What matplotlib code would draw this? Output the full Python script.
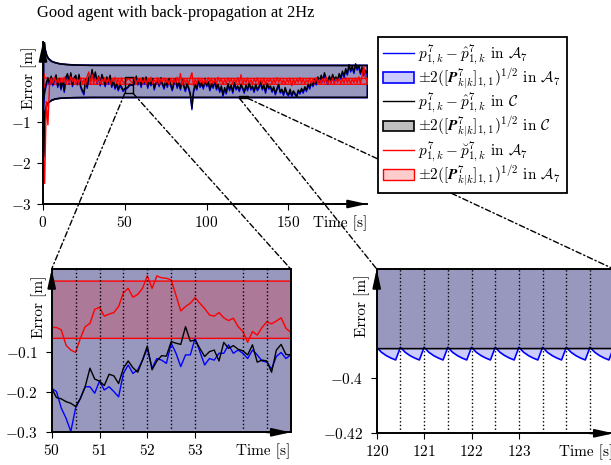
import numpy as np
import matplotlib.pyplot as plt
from matplotlib.patches import Rectangle, ConnectionPatch
from matplotlib.ticker import FuncFormatter
import matplotlib.transforms as mtransforms

plt.rcParams['font.family'] = 'serif'
plt.rcParams['font.serif'] = ['cmr10']
plt.rcParams['mathtext.fontset'] = 'cm'
plt.rcParams['axes.formatter.use_mathtext'] = True
plt.rcParams['font.size'] = 11

# -------------------------------
# Overview data (1 s resolution)
# -------------------------------
t_all = np.arange(0, 199)

black_all = [
    -0.60, -0.25, -0.05, 0.08, -0.06, 0.12, -0.08, 0.04, 0.15, -0.12,
    0.06, -0.18, 0.02, -0.24, 0.10, 0.18, -0.04, 0.20, -0.10, 0.08,
    0.14, -0.06, 0.16, -0.12, -0.22, -0.30, 0.04, -0.14, 0.10, 0.02,
    0.28, 0.06, 0.22, -0.02, 0.12, -0.08, 0.16, 0.04, -0.10, 0.10,
    -0.04, 0.14, -0.12, 0.02, -0.16, -0.06, -0.20, -0.08, -0.14, -0.22,
    -0.19, -0.17, -0.14, -0.08, -0.10, -0.11, -0.02, 0.12, -0.06, 0.04,
    -0.12, 0.08, -0.04, 0.10, -0.14, 0.02, -0.08, 0.06, -0.18, -0.02,
    0.04, -0.10, 0.08, -0.06, -0.16, 0.02, -0.12, 0.06, -0.08, -0.20,
    -0.04, 0.06, -0.14, -0.02, -0.18, 0.04, -0.10, -0.22, -0.06, -0.16,
    -0.30, -0.66, -0.24, -0.08, -0.18, 0.02, -0.12, -0.04, -0.16, 0.06,
    -0.10, -0.02, -0.20, -0.06, -0.14, 0.04, -0.18, -0.08, -0.24, -0.12,
    -0.34, -0.16, -0.28, -0.06, -0.20, -0.10, -0.26, -0.04, -0.18, -0.12,
    -0.22, -0.08, -0.16, -0.26, -0.10, -0.20, -0.04, -0.18, -0.12, -0.24,
    -0.08, -0.20, -0.14, -0.02, -0.18, -0.10, -0.26, -0.06, -0.16, -0.12,
    -0.24, -0.14, -0.30, -0.18, -0.08, -0.26, -0.20, -0.32, -0.16, -0.28,
    -0.34, -0.20, -0.36, -0.24, -0.30, -0.38, -0.22, -0.28, -0.18, -0.26,
    -0.14, -0.22, -0.08, -0.16, -0.02, -0.10, 0.04, -0.06, 0.10, 0.00,
    0.14, 0.02, 0.20, 0.06, -0.04, 0.12, 0.00, 0.16, 0.04, 0.10,
    0.02, 0.18, 0.08, 0.24, 0.12, 0.30, 0.18, 0.40, 0.26, 0.36,
    0.22, 0.42, 0.30, 0.38, 0.20, 0.34, 0.16, 0.26, 0.20,
]

blue_all = [
    -0.70, -0.30, -0.10, 0.04, -0.10, 0.08, -0.12, 0.00, 0.10, -0.16,
    0.02, -0.22, -0.02, -0.28, 0.06, 0.14, -0.08, 0.16, -0.14, 0.04,
    0.10, -0.10, 0.12, -0.16, -0.26, -0.34, 0.00, -0.18, 0.06, -0.02,
    0.24, 0.02, 0.18, -0.06, 0.08, -0.12, 0.12, 0.00, -0.14, 0.06,
    -0.08, 0.10, -0.16, -0.02, -0.20, -0.10, -0.24, -0.12, -0.18, -0.26,
    -0.19, -0.20, -0.16, -0.11, -0.10, -0.11, -0.06, 0.08, -0.10, 0.00,
    -0.16, 0.04, -0.08, 0.06, -0.18, -0.02, -0.12, 0.02, -0.22, -0.06,
    0.00, -0.14, 0.04, -0.10, -0.20, -0.02, -0.16, 0.02, -0.12, -0.24,
    -0.08, 0.02, -0.18, -0.06, -0.22, 0.00, -0.14, -0.26, -0.10, -0.20,
    -0.34, -0.70, -0.28, -0.12, -0.22, -0.02, -0.16, -0.08, -0.20, 0.02,
    -0.14, -0.06, -0.24, -0.10, -0.18, 0.00, -0.22, -0.12, -0.28, -0.16,
    -0.38, -0.20, -0.32, -0.10, -0.24, -0.14, -0.30, -0.08, -0.22, -0.16,
    -0.26, -0.12, -0.20, -0.30, -0.14, -0.24, -0.08, -0.22, -0.16, -0.28,
    -0.12, -0.24, -0.18, -0.06, -0.22, -0.14, -0.30, -0.10, -0.20, -0.16,
    -0.28, -0.18, -0.34, -0.22, -0.12, -0.30, -0.24, -0.36, -0.20, -0.32,
    -0.37, -0.24, -0.38, -0.28, -0.34, -0.38, -0.26, -0.32, -0.22, -0.30,
    -0.18, -0.26, -0.12, -0.20, -0.06, -0.14, 0.00, -0.10, 0.06, -0.04,
    0.10, -0.02, 0.16, 0.02, -0.08, 0.08, -0.04, 0.12, 0.00, 0.06,
    -0.02, 0.14, 0.04, 0.20, 0.08, 0.26, 0.14, 0.36, 0.22, 0.32,
    0.18, 0.38, 0.26, 0.34, 0.16, 0.30, 0.12, 0.22, 0.16,
]

red_all = [
    -1.60, -2.50, -0.50, -1.07, -0.10, 0.06, -0.05, 0.08, -0.04, 0.05,
    -0.06, 0.07, -0.03, 0.09, -0.07, 0.04, -0.05, 0.10, -0.02, 0.06,
    -0.08, 0.05, -0.04, 0.08, -0.06, 0.03, -0.10, 0.12, 0.22, -0.08,
    0.16, -0.06, 0.07, -0.04, 0.09, -0.07, 0.05, -0.03, 0.08, -0.05,
    0.06, -0.08, 0.04, -0.02, 0.09, -0.06, 0.05, -0.09, 0.07, -0.03,
    -0.04, 0.01, 0.06, 0.03, -0.02, -0.05, 0.08, -0.06, 0.04, -0.04,
    0.07, -0.05, 0.03, -0.08, 0.06, -0.03, 0.09, -0.06, 0.02, -0.04,
    0.08, -0.07, 0.05, -0.02, 0.07, -0.05, 0.04, -0.08, 0.06, -0.03,
    0.05, -0.06, 0.09, -0.04, 0.18, -0.10, 0.06, -0.05, 0.04, -0.07,
    0.08, 0.20, -0.12, 0.05, -0.06, 0.07, -0.03, 0.06, -0.08, 0.04,
    -0.05, 0.08, -0.04, 0.06, -0.07, 0.03, -0.06, 0.09, -0.02, 0.05,
    -0.08, 0.04, -0.05, 0.07, -0.03, 0.06, -0.07, 0.05, -0.04, 0.08,
    -0.06, 0.15, -0.09, 0.05, -0.04, 0.07, -0.05, 0.03, -0.07, 0.06,
    -0.03, 0.08, -0.06, 0.04, -0.05, 0.07, -0.08, 0.05, -0.02, 0.06,
    -0.07, 0.04, -0.05, 0.08, -0.03, 0.06, -0.06, 0.03, -0.08, 0.05,
    -0.04, 0.07, -0.12, 0.05, -0.06, 0.04, -0.03, 0.08, -0.05, 0.06,
    -0.07, 0.03, -0.04, 0.07, -0.06, 0.05, -0.03, 0.08, -0.05, 0.04,
    -0.06, 0.06, -0.04, 0.09, -0.07, 0.03, -0.05, 0.07, -0.08, 0.05,
    -0.03, 0.06, -0.06, 0.04, -0.05, 0.08, -0.04, 0.06, -0.07, 0.05,
    -0.04, 0.07, -0.05, 0.10, -0.06, 0.12, 0.36, 0.10, -0.02,
]

# covariance bounds (knots)
t_band = [0, 0.5, 1, 2, 3, 5, 7, 10, 15, 20, 30, 198]
c_up = [1.30, 0.95, 0.78, 0.63, 0.56, 0.49, 0.46, 0.43, 0.41, 0.40, 0.393, 0.3887]
c_lo = [-1.85, -1.05, -0.75, -0.58, -0.52, -0.46, -0.43, -0.41, -0.40, -0.395, -0.39, -0.3887]
a_up = [1.30, 0.95, 0.78, 0.63, 0.56, 0.49, 0.46, 0.43, 0.41, 0.40, 0.395, 0.3935]
a_lo = [-1.85, -1.05, -0.75, -0.58, -0.52, -0.46, -0.43, -0.41, -0.40, -0.395, -0.392, -0.3935]
r_up = [0.20, 0.12, 0.09, 0.08, 0.075, 0.075, 0.075, 0.075, 0.075, 0.075, 0.075, 0.075]
r_lo = [-0.20, -0.12, -0.09, -0.075, -0.067, -0.067, -0.067, -0.067, -0.067, -0.067, -0.067, -0.067]

# -------------------------------
# Zoom 1: 50..55 s (10 Hz)
# -------------------------------
t_z1 = np.round(np.arange(50.0, 55.01, 0.1), 1)
red_z1 = [
    -0.040, -0.040, -0.046, -0.084, -0.096, -0.102, -0.067, -0.038, -0.030, 0.005,
    0.010, -0.012, -0.007, -0.003, 0.012, 0.046, 0.057, 0.035, 0.042, 0.057,
    0.088, 0.057, 0.088, 0.083, 0.082, 0.078, 0.040, 0.001, 0.012, 0.020,
    0.034, 0.020, 0.007, -0.009, -0.012, -0.003, -0.016, -0.023, -0.017, -0.038,
    -0.050, -0.077, -0.050, -0.059, -0.040, -0.026, -0.031, -0.024, -0.016, -0.042,
    -0.052,
]
black_z1 = [
    -0.191, -0.214, -0.217, -0.224, -0.228, -0.236, -0.216, -0.187, -0.141, -0.168,
    -0.173, -0.184, -0.156, -0.160, -0.179, -0.141, -0.123, -0.140, -0.151, -0.121,
    -0.086, -0.145, -0.123, -0.110, -0.111, -0.075, -0.079, -0.082, -0.038, -0.074,
    -0.071, -0.092, -0.112, -0.100, -0.096, -0.123, -0.077, -0.092, -0.085, -0.094,
    -0.098, -0.108, -0.083, -0.126, -0.121, -0.123, -0.151, -0.096, -0.082, -0.107,
    -0.108,
]
blue_z1 = [
    -0.191, -0.199, -0.240, -0.265, -0.298, -0.240, -0.216, -0.187, -0.187, -0.203,
    -0.173, -0.195, -0.187, -0.199, -0.212, -0.154, -0.133, -0.154, -0.145, -0.121,
    -0.092, -0.141, -0.117, -0.121, -0.129, -0.079, -0.104, -0.137, -0.108, -0.108,
    -0.067, -0.100, -0.133, -0.117, -0.121, -0.104, -0.104, -0.083, -0.104, -0.096,
    -0.104, -0.117, -0.096, -0.108, -0.123, -0.126, -0.143, -0.112, -0.102, -0.117,
    -0.108,
]
bp_z1 = [50.5, 51.0, 51.5, 52.0, 52.5, 53.0, 54.0, 54.5]

# -------------------------------
# Zoom 2: 120..125 s (10 Hz), lower A7 bound
# -------------------------------
t_z2 = np.round(np.arange(120.0, 125.01, 0.1), 1)
a_lo_z2 = [
    -0.3888, -0.3906, -0.3918, -0.3927, -0.3934,
    -0.3888, -0.3906, -0.3918, -0.3927, -0.3934,
    -0.3888, -0.3906, -0.3918, -0.3927, -0.3934,
    -0.3888, -0.3906, -0.3918, -0.3927, -0.3934,
    -0.3888, -0.3906, -0.3918, -0.3927, -0.3934,
    -0.3888, -0.3906, -0.3918, -0.3927, -0.3934,
    -0.3888, -0.3906, -0.3918, -0.3927, -0.3934,
    -0.3888, -0.3906, -0.3918, -0.3927, -0.3934,
    -0.3888, -0.3906, -0.3918, -0.3927, -0.3934,
    -0.3888, -0.3906, -0.3918, -0.3927, -0.3934,
    -0.3888,
]
a_up_z2 = 0.3935
bp_z2 = [120.5, 121.0, 121.5, 122.0, 122.5, 123.0, 123.5, 124.0, 124.5]

z1_xlim, z1_ylim = (50, 55), (-0.3, 0.105)
z2_xlim, z2_ylim = (120, 125), (-0.42, -0.3604)

labels = [
    r'$p^{7}_{1,k} - \hat{p}^{7}_{1,k}$ in $\mathcal{A}_7$',
    r'$\pm 2([\boldsymbol{P}^{7}_{k|k}]_{1,1})^{1/2}$ in $\mathcal{A}_7$',
    r'$p^{7}_{1,k} - \hat{p}^{7}_{1,k}$ in $\mathcal{C}$',
    r'$\pm 2([\boldsymbol{P}^{7}_{k|k}]_{1,1})^{1/2}$ in $\mathcal{C}$',
    r'$p^{7}_{1,k} - \breve{p}^{7}_{1,k}$ in $\mathcal{A}_7$',
    r'$\pm 2([\boldsymbol{P}^{7}_{k|k}]_{1,1})^{1/2}$ in $\mathcal{A}_7$',
]

BLUE_F = (0, 0, 1, 0.2)
GRAY_F = (0, 0, 0, 0.25)
RED_F = (1, 0, 0, 0.2)

fig = plt.figure(figsize=(6.11, 4.65), dpi=100)
fig.text(37/611, 1 - 13/465, 'Good agent with back-propagation at 2Hz',
         family='Liberation Serif', fontsize=11.9, va='center', ha='left')

ax_top = fig.add_axes([43/611, 1 - 204/465, 324/611, 162/465])
ax_bl = fig.add_axes([51.7/611, 1 - 432.3/465, 239/611, 163.3/465])
ax_br = fig.add_axes([376.7/611, 1 - 433.3/465, 237/611, 164.3/465])

fmt = FuncFormatter(lambda v, p: f'${v:g}$')


def style(ax, box, pad, ylab_xy, time_dy):
    for s in ax.spines.values():
        s.set_linewidth(1.4)
    ax.spines['top'].set_visible(box)
    ax.spines['right'].set_visible(box)
    ax.tick_params(direction='out', length=4, width=0.8, labelsize=11)
    ax.tick_params(axis='y', pad=pad)
    ax.tick_params(axis='x', pad=4)
    ax.xaxis.set_major_formatter(fmt)
    ax.yaxis.set_major_formatter(fmt)
    arr = dict(arrowstyle='-|>,head_length=1.0,head_width=0.22', color='k',
               lw=1.4, shrinkA=0, shrinkB=0)
    ax.annotate('', xy=(1, 0), xytext=(0.9, 0), xycoords='axes fraction',
                arrowprops=arr, annotation_clip=False, zorder=10)
    ax.annotate('', xy=(0, 1), xytext=(0, 0.9), xycoords='axes fraction',
                arrowprops=arr, annotation_clip=False, zorder=10)
    ax.text(ylab_xy[0], ylab_xy[1], 'Error [m]', rotation=90, ha='center',
            va='center', fontsize=11, transform=ax.transAxes)
    tr = mtransforms.offset_copy(ax.transAxes, fig=fig, x=0, y=time_dy, units='points')
    ax.text(1, 0, 'Time [s]', ha='right', va='top', fontsize=11, transform=tr)


# ---- top overview ----
ax = ax_top
h1, = ax.plot(t_all, blue_all, color='blue', lw=1.0)
h2 = ax.fill_between(t_band, a_lo, a_up, facecolor=BLUE_F, edgecolor='blue', lw=1.2)
h3, = ax.plot(t_all, black_all, color='black', lw=1.0)
h4 = ax.fill_between(t_band, c_lo, c_up, facecolor=GRAY_F, edgecolor='black', lw=1.2)
h5, = ax.plot(t_all, red_all, color='red', lw=1.0)
h6 = ax.fill_between(t_band, r_lo, r_up, facecolor=RED_F, edgecolor='red', lw=1.0)
ax.add_patch(Rectangle((z1_xlim[0], z1_ylim[0]), z1_xlim[1] - z1_xlim[0],
                       z1_ylim[1] - z1_ylim[0], fill=False, ec='k', lw=1.0, zorder=5))
ax.add_patch(Rectangle((z2_xlim[0], z2_ylim[0]), z2_xlim[1] - z2_xlim[0],
                       z2_ylim[1] - z2_ylim[0], fill=False, ec='k', lw=1.0, zorder=5))
ax.set_xlim(0, 198)
ax.set_ylim(-3, 0.95)
ax.set_xticks([0, 50, 100, 150])
ax.set_yticks([-3, -2, -1])
style(ax, False, 4, (-0.043, 0.778), -8)

# ---- zoom 1 ----
ax = ax_bl
ax.plot(t_z1, blue_z1, color='blue', lw=1.0)
ax.fill_between(t_band, a_lo, a_up, facecolor=BLUE_F, edgecolor='blue', lw=1.2)
ax.plot(t_z1, black_z1, color='black', lw=1.0)
ax.fill_between(t_band, c_lo, c_up, facecolor=GRAY_F, edgecolor='black', lw=1.2)
ax.plot(t_z1, red_z1, color='red', lw=1.0)
ax.fill_between(t_band, r_lo, r_up, facecolor=RED_F, edgecolor='red', lw=1.0)
for x in bp_z1:
    ax.axvline(x, color='k', ls=':', lw=1.0, zorder=6)
ax.set_xlim(*z1_xlim)
ax.set_ylim(*z1_ylim)
ax.set_xticks([50, 51, 52, 53])
ax.set_yticks([-0.3, -0.2, -0.1])
style(ax, True, 6, (-0.054, 0.77), -8)

# ---- zoom 2 ----
ax = ax_br
ax.fill_between(t_z2, a_lo_z2, a_up_z2, facecolor=BLUE_F, edgecolor='blue', lw=1.2)
ax.fill_between(t_band, c_lo, c_up, facecolor=GRAY_F, edgecolor='black', lw=1.2)
for x in bp_z2:
    ax.axvline(x, color='k', ls=':', lw=1.0, zorder=6)
ax.set_xlim(*z2_xlim)
ax.set_ylim(*z2_ylim)
ax.set_xticks([120, 121, 122, 123])
ax.set_yticks([-0.42, -0.4])
style(ax, True, 6, (-0.060, 0.774), -8)

# ---- connectors ----
dash = (0, (4, 2, 1, 2))
for xa, ya, axb, xb in [(z1_xlim[0], z1_ylim[0], ax_bl, 0), (z1_xlim[1], z1_ylim[0], ax_bl, 1),
                        (z2_xlim[0], z2_ylim[0], ax_br, 0), (z2_xlim[1], z2_ylim[0], ax_br, 1)]:
    con = ConnectionPatch(xyA=(xa, ya), coordsA=ax_top.transData, xyB=(xb, 1),
                          coordsB=axb.transAxes, color='k', lw=1.0, ls=dash)
    con.set_zorder(3)
    fig.add_artist(con)

leg = fig.legend([h1, h2, h3, h4, h5, h6], labels, loc='upper left',
                 bbox_to_anchor=(378/611, 1 - 37/465), borderaxespad=0,
                 fancybox=False, framealpha=1, edgecolor='black', fontsize=11,
                 handlelength=2.0, handletextpad=0.3, labelspacing=0.0,
                 borderpad=0.35)
leg.get_frame().set_linewidth(1.3)
leg.set_zorder(20)

fig.savefig('out.png', dpi=100)
